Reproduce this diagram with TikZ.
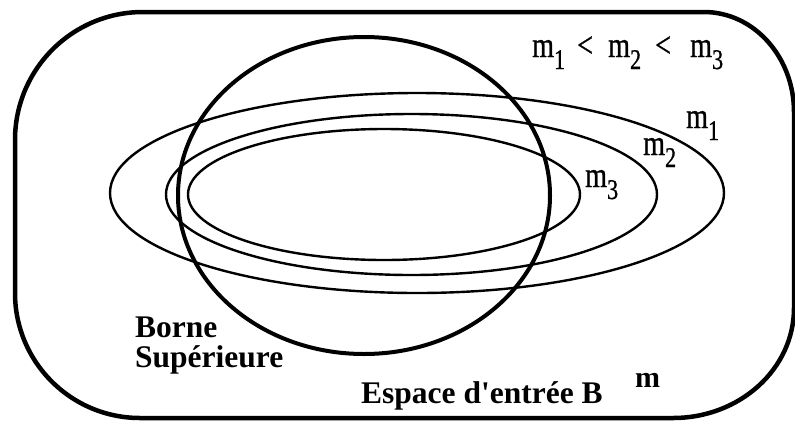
\documentclass[tikz,border=0pt]{standalone}
\usepackage{fontspec}
\setmainfont{Liberation Serif}
\newfontfamily\mfont[FakeStretch=0.78,FakeBold=0.8]{Liberation Serif}
\newcommand{\mbig}{\fontsize{36}{38}\selectfont}
\newcommand{\msub}{\fontsize{28.5}{30}\selectfont}
\newcommand{\mlab}[1]{{\mfont\mbig m\raisebox{-12pt}{\msub #1}}}
\tikzset{
  outerline/.style={line width=4.5pt},
  circline/.style={line width=4pt},
  ellline/.style={line width=2.4pt},
  lab/.style={inner sep=0pt, anchor=base west},
  boldlab/.style={lab, font=\bfseries\fontsize{31.5}{33}\selectfont},
}
\begin{document}
\begin{tikzpicture}[x=1pt,y=-1pt]
\useasboundingbox (0,0) rectangle (795,421);
% outer rounded box
\draw[outerline] (15,140) .. controls (15,69.3) and (72.3,12) .. (143,12)
  -- (704,12) .. controls (753.7,12) and (794,56.8) .. (794,112)
  -- (794,308) .. controls (794,368.8) and (740,418) .. (673,418)
  -- (140,418) .. controls (71,418) and (15,362) .. (15,293) -- cycle;
% ellipses m1, m2, m3
\draw[ellline] (417,193) ellipse [x radius=307, y radius=100];
\draw[ellline] (411.5,194.5) ellipse [x radius=245.5, y radius=80.5];
\draw[ellline] (384,194.5) ellipse [x radius=196, y radius=65.5];
% upper bound
\draw[circline] (364,195.5) ellipse [x radius=186, y radius=158.5];
% labels
\node[lab] (t1) at (532,57) {\mlab{1}};
\node[lab] (t2) at (577,57) {\mfont\mbig <};
\node[lab] (t3) at (608,57) {\mlab{2}};
\node[lab] (t4) at (655,57) {\mfont\mbig <};
\node[lab] (t5) at (690,57) {\mlab{3}};
\node[lab] (l1) at (686,128) {\mlab{1}};
\node[lab] (l2) at (643,155) {\mlab{2}};
\node[lab] (l3) at (585,187) {\mlab{3}};
\node[boldlab] (b1) at (135,337) {Borne};
\node[boldlab] (b2) at (135,367) {Supérieure};
\node[boldlab] (esp) at (361,403) {Espace d\textquotesingle entrée B};
\node[lab, font=\bfseries\fontsize{30}{32}\selectfont] (mm) at (635,387) {m};
\end{tikzpicture}
\end{document}
